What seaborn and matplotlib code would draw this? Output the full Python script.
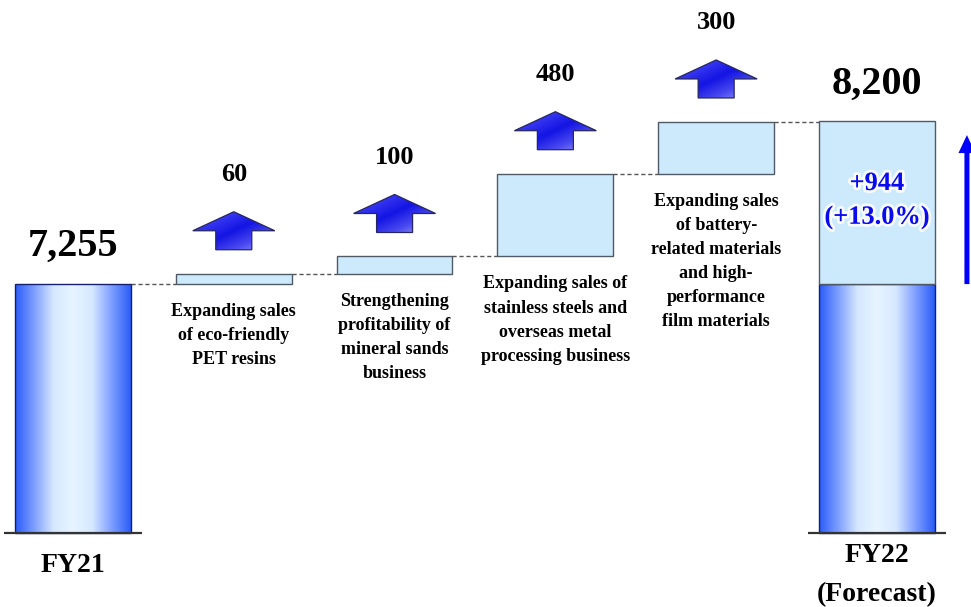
import numpy as np
import pandas as pd
import matplotlib.pyplot as plt
import seaborn as sns
import matplotlib.patheffects as pe
from matplotlib.colors import LinearSegmentedColormap
from matplotlib.patches import Polygon, FancyArrow

# data
categories = ['FY21', 'PET', 'Mineral', 'Metal', 'Battery', 'FY22']
start_value = 7255
end_value = 8200
steps = [60, 100, 480, 300]
step_labels = ['60', '100', '480', '300']
descriptions = [
    'Expanding sales\nof eco-friendly\nPET resins',
    'Strengthening\nprofitability of\nmineral sands\nbusiness',
    'Expanding sales of\nstainless steels and\noverseas metal\nprocessing business',
    'Expanding sales\nof battery-\nrelated materials\nand high-\nperformance\nfilm materials',
]
total_labels = ['7,255', '8,200']
x_labels = ['FY21', 'FY22\n(Forecast)']
change_label = '+944\n(+13.0%)'
axis_break = 5812  # value where the truncated axis starts

sns.set_style('white')
plt.rcParams['font.family'] = ['Liberation Serif', 'DejaVu Serif']
plt.rcParams['font.weight'] = 'bold'
plt.rcParams['text.color'] = 'black'

fig = plt.figure(figsize=(9.71, 6.07), dpi=100)
ax = fig.add_axes([0, 0, 1, 1])
xlim = (-0.454, 5.585)
ylim = (5383, 8902)
px = (xlim[1] - xlim[0]) / 971   # x data units per pixel
py = (ylim[1] - ylim[0]) / 607   # y data units per pixel
width = 0.72

bar_cmap = LinearSegmentedColormap.from_list(
    'bar', ['#2a5cf8', '#7f9fff', '#d6e8ff', '#e8f5ff', '#d6e8ff', '#7f9fff', '#2a5cf8'])
arrow_cmap = LinearSegmentedColormap.from_list(
    'arr', ['#6878ff', '#3838f2', '#1414e4', '#4c4cf0', '#a8a8ff'])

# end bars (base part up to FY21 level)
ends = pd.DataFrame({'cat': ['FY21', 'FY22'], 'value': [start_value, start_value]})
sns.barplot(data=ends, x='cat', y='value', order=categories, width=width,
            color='#2558ff', edgecolor='#14206e', linewidth=1.0, ax=ax)
grad = np.linspace(0, 1, 256).reshape(1, -1)
for patch in list(ax.patches):
    h = patch.get_height()
    patch.set_y(axis_break)
    patch.set_height(h - axis_break)
    patch.set_facecolor('none')
    patch.set_zorder(3)
    x0 = patch.get_x()
    im = ax.imshow(grad, extent=[x0, x0 + patch.get_width(), axis_break, h],
                   aspect='auto', cmap=bar_cmap, zorder=2)
    im.set_clip_path(patch)

# floating step bars
bottoms = start_value + np.concatenate([[0], np.cumsum(steps)[:-1]])
positions = np.arange(1, len(steps) + 1)
ax.bar(positions, steps, bottom=bottoms, width=width, color='#cdeafd',
       edgecolor='#505a66', linewidth=1.0, zorder=3)
# increase box on top of FY22
ax.bar(5, end_value - start_value, bottom=start_value, width=width,
       color='#cdeafd', edgecolor='#505a66', linewidth=1.0, zorder=3)

# baselines under end bars
for c in [0, 5]:
    ax.hlines(axis_break, c - 0.43, c + 0.43, color='#333333', lw=1.6, zorder=4)

# dashed connectors
levels = start_value + np.concatenate([[0], np.cumsum(steps)])
for i, lvl in enumerate(levels):
    ax.plot([i + width / 2, i + 1 - width / 2], [lvl, lvl], color='#555555',
            lw=1.0, ls=(0, (3, 2)), zorder=1)

# arrows and step values
for pos, bot, st, lab, desc in zip(positions, bottoms, steps, step_labels, descriptions):
    top = bot + st
    yb = top + 24 * py
    hw, hh, sw, sh = 41 * px, 19 * py, 18 * px, 19 * py
    verts = [(pos - sw, yb), (pos + sw, yb), (pos + sw, yb + sh), (pos + hw, yb + sh),
             (pos, yb + sh + hh), (pos - hw, yb + sh), (pos - sw, yb + sh)]
    poly = Polygon(verts, closed=True, facecolor='none', edgecolor='#262660',
                   lw=0.9, zorder=4)
    ax.add_patch(poly)
    u, v = np.meshgrid(np.linspace(0, 1, 64), np.linspace(1, 0, 64))
    g = (u + (1 - v)) / 2
    im = ax.imshow(g, extent=[pos - hw, pos + hw, yb, yb + sh + hh],
                   aspect='auto', cmap=arrow_cmap, zorder=3)
    im.set_clip_path(poly)
    ax.text(pos, yb + sh + hh + 37 * py, lab, ha='center', va='center',
            fontsize=19, fontweight='bold')
    ax.text(pos, bot - 19 * py, desc, ha='center', va='top', fontsize=13,
            fontweight='bold', linespacing=1.55)

# totals
ax.text(0, start_value + 38 * py, total_labels[0], ha='center', va='center',
        fontsize=29, fontweight='bold')
ax.text(5, end_value + 37 * py, total_labels[1], ha='center', va='center',
        fontsize=29, fontweight='bold')
ax.text(0, axis_break - 32 * py, x_labels[0], ha='center', va='center',
        fontsize=20, fontweight='bold')
ax.text(5, axis_break - 10 * py, x_labels[1], ha='center', va='top',
        fontsize=20, fontweight='bold', linespacing=1.75)

ax.text(5, (start_value + end_value) / 2 + 2 * py, change_label, ha='center',
        va='center', fontsize=19, fontweight='bold', color='#0a0aee',
        linespacing=1.6,
        path_effects=[pe.withStroke(linewidth=4, foreground='white', alpha=0.85)])

# right side arrow
xa = 5 + 90 * px
ax.add_patch(FancyArrow(xa, start_value, 0, end_value - start_value - 14 * py,
                        width=5 * px, head_width=17 * px, head_length=18 * py,
                        length_includes_head=True, color='#0000ff', lw=0, zorder=4))

ax.set_xlim(*xlim)
ax.set_ylim(*ylim)
ax.axis('off')
fig.savefig('out.png', dpi=100)
